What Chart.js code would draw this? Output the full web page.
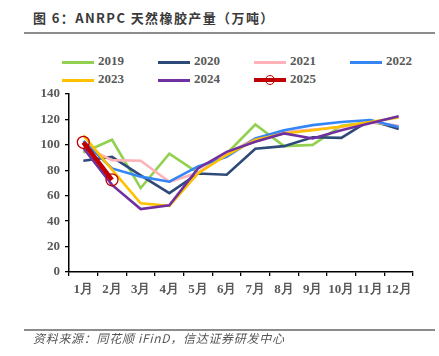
<!DOCTYPE html>
<html><head><meta charset="utf-8">
<script src="https://cdn.jsdelivr.net/npm/chart.js@4"></script>
<style>
html,body{margin:0;padding:0;background:#fff;}
#wrap{position:relative;width:439px;height:356px;overflow:hidden;}
#title{position:absolute;left:33px;top:8px;font:bold 13px "Noto Sans CJK SC",sans-serif;color:#3a3a3a;white-space:nowrap;letter-spacing:1.4px;}
.hr{position:absolute;left:24px;width:411px;height:2px;background:#8c8c8c;}
#src{position:absolute;left:33px;top:329px;font:italic 12px "Noto Sans CJK SC",sans-serif;color:#555;white-space:nowrap;letter-spacing:0.7px;}
#legend{position:absolute;left:0;top:0;}
.li{position:absolute;height:16px;font:bold 13px "Liberation Serif",serif;color:#595959;}
.li .ln{position:absolute;left:0;top:7px;width:32px;height:3px;}
.li .tx{position:absolute;left:36px;top:-1px;}
.li .pt{position:absolute;left:11px;top:3px;width:8px;height:8px;border:1.3px solid #C00000;border-radius:50%;}
canvas{position:absolute;left:0;top:0;}
</style></head>
<body><div id="wrap">
<div id="title">图 6：ANRPC 天然橡胶产量（万吨）</div>
<div class="hr" style="top:32px"></div>
<div id="legend"></div>
<canvas id="c" width="439" height="356"></canvas>
<div class="hr" style="top:329px"></div>
<div id="src">资料来源：同花顺 iFinD，信达证券研发中心</div>
</div>
<script>
const months = ['1月','2月','3月','4月','5月','6月','7月','8月','9月','10月','11月','12月'];
const seriesNames = ['2019','2020','2021','2022','2023','2024','2025'];
const s2019 = [94, 104, 66, 93, 78, 93, 116, 99, 100, 115, 118, 114];
const s2020 = [87.5, 90.5, 76, 62, 77.5, 76.5, 97, 99, 106, 105.5, 119.5, 112.5];
const s2021 = [99, 88, 87.5, 71, 78, 93, 105, 110, 112, 114, 118, 115];
const s2022 = [103, 81.5, 75, 71, 83, 90.5, 105, 111.5, 115.5, 118, 119.5, 114];
const s2023 = [107.5, 80.5, 54, 52, 77.5, 92, 104, 109, 111.5, 114.5, 118, 121.5];
const s2024 = [97.5, 68.5, 49.5, 52.5, 81.5, 94.5, 102.5, 109, 105, 111.5, 117, 122.5];
const s2025 = [102, 72.5];
const yTicks = [0, 20, 40, 60, 80, 100, 120, 140];

const colors = ['#92D050','#2E4A78','#FFB3B8','#3586F5','#FFC000','#7030A0','#C00000'];
const allData = [s2019,s2020,s2021,s2022,s2023,s2024,s2025];

// HTML legend
const lg = document.getElementById('legend');
const legX = [62,158,254,350];
const legY = [54,72];
seriesNames.forEach((n,i)=>{
  const d=document.createElement('div');d.className='li';
  d.style.left=legX[i%4]+'px';d.style.top=legY[Math.floor(i/4)]+'px';
  let h='<div class="ln" style="background:'+colors[i]+(i===6?';height:4px;top:6px':'')+'"></div>';
  if(i===6)h+='<div class="pt"></div>';
  h+='<div class="tx">'+n+'</div>';
  d.innerHTML=h;lg.appendChild(d);
});

const datasets = allData.map((d,i)=>({
  label: seriesNames[i],
  data: d,
  borderColor: colors[i],
  backgroundColor: colors[i],
  borderWidth: i===6 ? 4.5 : 2.6,
  pointRadius: i===6 ? 6 : 0,
  pointBorderWidth: 1.3,
  pointBorderColor: colors[i],
  pointBackgroundColor: 'rgba(0,0,0,0)',
  tension: 0,
  order: 7 - i
}));

const tickFont = {family:'"Liberation Serif", serif', size:13, weight:'bold'};
new Chart(document.getElementById('c'), {
  type: 'line',
  data: {labels: months, datasets},
  options: {
    responsive:false, animation:false,
    layout:{padding:{left:0,right:26,top:94,bottom:0}},
    plugins:{legend:{display:false},tooltip:{enabled:false}},
    scales:{
      x:{
        offset:true,
        grid:{display:true,drawOnChartArea:false,drawTicks:true,tickLength:4,color:'#000',offset:true,lineWidth:1.3},
        border:{display:true,color:'#000',width:1.5},
        ticks:{font:tickFont,color:'#595959',padding:6,maxRotation:0,autoSkip:false},
        afterFit:(s)=>{s.height=84;}
      },
      y:{
        min:0,max:140,
        afterBuildTicks:(s)=>{s.ticks=yTicks.map(v=>({value:v}));},
        grid:{display:true,drawOnChartArea:false,drawTicks:true,tickLength:4,color:'#000',lineWidth:1.3},
        border:{display:true,color:'#000',width:1.5},
        ticks:{font:tickFont,color:'#595959',padding:5},
        afterFit:(s)=>{s.width=69;}
      }
    }
  }
});
</script>
</body></html>
